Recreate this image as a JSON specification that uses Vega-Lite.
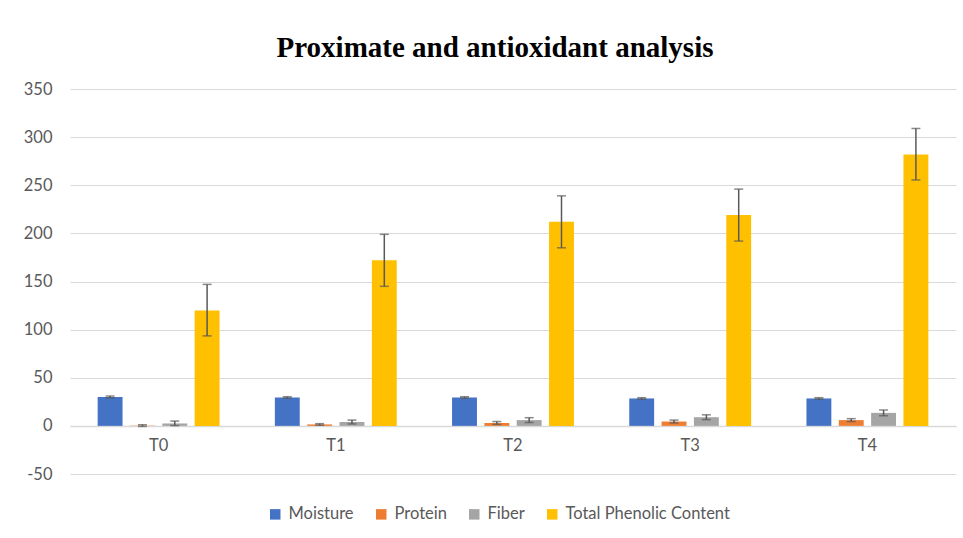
{
  "$schema": "https://vega.github.io/schema/vega-lite/v6.json",
  "autosize": {"type": "none"},
  "width": 886,
  "height": 385,
  "padding": {"left": 70, "top": 89, "right": 7, "bottom": 64},
  "background": "white",
  "title": {
    "text": "Proximate and antioxidant analysis",
    "font": "Liberation Serif",
    "fontSize": 29,
    "fontWeight": "bold",
    "color": "black",
    "anchor": "middle",
    "frame": "group",
    "dx": -18,
    "offset": 18
  },
  "data": {
    "values": [
      {"group": "T0", "series": "Moisture", "value": 30, "lo": 29, "hi": 31},
      {"group": "T0", "series": "Protein", "value": 0.3, "lo": -0.6, "hi": 1.2},
      {"group": "T0", "series": "Fiber", "value": 2.5, "lo": 0.3, "hi": 5},
      {"group": "T0", "series": "Total Phenolic Content", "value": 120, "lo": 93.5, "hi": 147},
      {"group": "T1", "series": "Moisture", "value": 29.5, "lo": 28.7, "hi": 30.3},
      {"group": "T1", "series": "Protein", "value": 1.5, "lo": 0.7, "hi": 2.3},
      {"group": "T1", "series": "Fiber", "value": 4, "lo": 2, "hi": 6},
      {"group": "T1", "series": "Total Phenolic Content", "value": 172, "lo": 145, "hi": 199},
      {"group": "T2", "series": "Moisture", "value": 29.5, "lo": 28.7, "hi": 30.3},
      {"group": "T2", "series": "Protein", "value": 3, "lo": 1.5, "hi": 4.5},
      {"group": "T2", "series": "Fiber", "value": 6, "lo": 3.5, "hi": 8.5},
      {"group": "T2", "series": "Total Phenolic Content", "value": 212, "lo": 185, "hi": 239},
      {"group": "T3", "series": "Moisture", "value": 28.5, "lo": 27.7, "hi": 29.3},
      {"group": "T3", "series": "Protein", "value": 4.5, "lo": 3, "hi": 6},
      {"group": "T3", "series": "Fiber", "value": 9, "lo": 6.5, "hi": 11.5},
      {"group": "T3", "series": "Total Phenolic Content", "value": 219, "lo": 192, "hi": 246},
      {"group": "T4", "series": "Moisture", "value": 28.5, "lo": 27.7, "hi": 29.3},
      {"group": "T4", "series": "Protein", "value": 6, "lo": 4.5, "hi": 7.5},
      {"group": "T4", "series": "Fiber", "value": 13.5, "lo": 10.5, "hi": 16.5},
      {"group": "T4", "series": "Total Phenolic Content", "value": 282, "lo": 255.5, "hi": 309}
    ]
  },
  "encoding": {
    "x": {
      "field": "group",
      "type": "nominal",
      "scale": {"paddingInner": 0.25, "paddingOuter": 0.125},
      "axis": {
        "title": null,
        "labelAngle": 0,
        "offset": -48,
        "ticks": false,
        "domainColor": "#d9d9d9",
        "domainWidth": 1.3,
        "labelFont": "Lato",
        "labelFontSize": 16.5,
        "labelColor": "#595959",
        "labelPadding": 11
      }
    },
    "xOffset": {
      "field": "series",
      "type": "nominal",
      "sort": ["Moisture", "Protein", "Fiber", "Total Phenolic Content"],
      "scale": {"paddingInner": 0.23, "paddingOuter": 0.17}
    }
  },
  "layer": [
    {
      "mark": {"type": "bar"},
      "encoding": {
        "y": {
          "field": "value",
          "type": "quantitative",
          "scale": {"domain": [-50, 350], "nice": false},
          "axis": {
            "title": null,
            "values": [-50, 0, 50, 100, 150, 200, 250, 300, 350],
            "labelExpr": "replace(datum.label, '\u2212', '-')",
            "domain": false,
            "ticks": false,
            "gridColor": "#d9d9d9",
            "gridWidth": 1,
            "labelFont": "Lato",
            "labelFontSize": 16.5,
            "labelColor": "#595959",
            "labelPadding": 18
          }
        },
        "color": {
          "field": "series",
          "type": "nominal",
          "sort": ["Moisture", "Protein", "Fiber", "Total Phenolic Content"],
          "scale": {
            "domain": ["Moisture", "Protein", "Fiber", "Total Phenolic Content"],
            "range": ["#4472C4", "#ED7D31", "#A5A5A5", "#FFC000"]
          },
          "legend": {
            "title": null,
            "orient": "none",
            "direction": "horizontal",
            "legendX": 197,
            "legendY": 417,
            "symbolType": "square",
            "symbolSize": 110,
            "symbolStrokeWidth": 0,
            "labelFont": "Lato",
            "labelFontSize": 16.5,
            "labelLimit": 400,
            "labelColor": "#595959",
            "columnPadding": 19,
            "labelOffset": 5
          }
        }
      }
    },
    {
      "mark": {"type": "rule", "color": "#595959", "strokeWidth": 1.5},
      "encoding": {
        "y": {"field": "lo", "type": "quantitative"},
        "y2": {"field": "hi"}
      }
    },
    {
      "mark": {"type": "tick", "color": "#595959", "thickness": 1.5, "size": 9, "orient": "horizontal"},
      "encoding": {
        "y": {"field": "lo", "type": "quantitative"}
      }
    },
    {
      "mark": {"type": "tick", "color": "#595959", "thickness": 1.5, "size": 9, "orient": "horizontal"},
      "encoding": {
        "y": {"field": "hi", "type": "quantitative"}
      }
    }
  ],
  "config": {
    "view": {"stroke": null}
  }
}
